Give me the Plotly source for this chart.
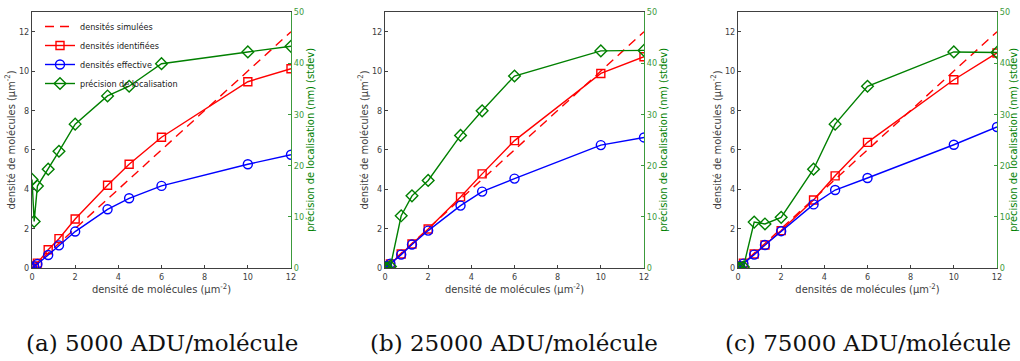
import plotly.graph_objects as go

# x positions (simulated density, µm^-2)
xs = [0, 0.1, 0.25, 0.75, 1.25, 2, 3.5, 4.5, 6, 10, 12]
simulated = [0, 0.1, 0.25, 0.75, 1.25, 2, 3.5, 4.5, 6, 10, 12]

# panel (a) 5000 ADU/molécule
ident_a = [0, 0.1, 0.25, 0.93, 1.49, 2.49, 4.2, 5.27, 6.64, 9.46, 10.12]
eff_a = [0, 0.08, 0.2, 0.66, 1.15, 1.85, 2.98, 3.54, 4.17, 5.27, 5.75]
prec_a = [17.3, 9.1, 16.0, 19.3, 22.8, 28.1, 33.6, 35.5, 39.9, 42.2, 43.3]

# panel (b) 25000 ADU/molécule
ident_b = [0, 0.08, 0.2, 0.71, 1.22, 1.98, 3.61, 4.78, 6.47, 9.88, 10.73]
eff_b = [0, 0.1, 0.22, 0.68, 1.19, 1.9, 3.17, 3.88, 4.54, 6.24, 6.63]
prec_b = [0, 0, 0.3, 10.2, 14.1, 17.1, 25.9, 30.7, 37.5, 42.4, 42.5]

# panel (c) 75000 ADU/molécule
ident_c = [0, 0.1, 0.25, 0.71, 1.17, 1.9, 3.45, 4.68, 6.38, 9.56, 10.92]
eff_c = [0, 0.09, 0.22, 0.68, 1.17, 1.87, 3.23, 3.96, 4.57, 6.26, 7.16]
prec_c = [0, 0, 0.2, 8.96, 8.6, 9.9, 19.3, 28.1, 35.5, 42.2, 42.1]

captions = ["(a) 5000 ADU/molécule", "(b) 25000 ADU/molécule", "(c) 75000 ADU/molécule"]
xtitles = ["densité de molécules (µm<sup>-2</sup>)",
           "densité de molécules (µm<sup>-2</sup>)",
           "densités de molécules (µm<sup>-2</sup>)"]
ytitle = "densité de molécules (µm<sup>-2</sup>)"
y2title = "précision de localisation (nm) (stdev)"
x_ticks = [0, 2, 4, 6, 8, 10, 12]
y_ticks = [0, 2, 4, 6, 8, 10, 12]
y2_ticks = [0, 10, 20, 30, 40, 50]

panels = [(ident_a, eff_a, prec_a), (ident_b, eff_b, prec_b), (ident_c, eff_c, prec_c)]
x_domains = [[32 / 1020, 291 / 1020], [385 / 1020, 644 / 1020], [738 / 1020, 997 / 1020]]
y_domain = [(361 - 268) / 361, (361 - 12) / 361]
cap_x = [162 / 1020, 514 / 1020, 868 / 1020]

RED = "#ff0000"
BLUE = "#0000ff"
GREEN = "#008000"
GREEN_T = "#3c9a3c"
GREY = "#404040"
FONT = "DejaVu Sans Condensed, Liberation Sans Narrow, Roboto Condensed, Roboto, sans-serif"

fig = go.Figure()
layout = dict(
    width=1020, height=361,
    margin=dict(l=0, r=0, t=0, b=0, autoexpand=False),
    paper_bgcolor="white", plot_bgcolor="white",
    font=dict(family=FONT, size=10, color=GREY),
    showlegend=True,
    legend=dict(x=40 / 1020, y=(361 - 12) / 361, xanchor="left", yanchor="top",
                bgcolor="rgba(0,0,0,0)", font=dict(size=9, color="#202020"),
                itemwidth=30, tracegroupgap=0),
    annotations=[],
)

for i, (ident, eff, prec) in enumerate(panels):
    xa = "x" if i == 0 else f"x{i + 1}"
    ya_l = "y" if i == 0 else f"y{2 * i + 1}"
    ya_r = f"y{2 * i + 2}"
    show = i == 0
    fig.add_trace(go.Scatter(x=xs, y=simulated, mode="lines", name="densités simulées",
                             line=dict(color=RED, width=1.4, dash="9px,6px"),
                             xaxis=xa, yaxis=ya_l, showlegend=show))
    fig.add_trace(go.Scatter(x=xs, y=ident, mode="lines+markers", name="densités identifiées",
                             line=dict(color=RED, width=1.4),
                             marker=dict(symbol="square-open", size=8, color=RED, line=dict(width=1.4)),
                             xaxis=xa, yaxis=ya_l, showlegend=show))
    fig.add_trace(go.Scatter(x=xs, y=eff, mode="lines+markers", name="densités effective",
                             line=dict(color=BLUE, width=1.4),
                             marker=dict(symbol="circle-open", size=9, color=BLUE, line=dict(width=1.4)),
                             xaxis=xa, yaxis=ya_l, showlegend=show))
    fig.add_trace(go.Scatter(x=xs, y=prec, mode="lines+markers", name="précision de localisation",
                             line=dict(color=GREEN, width=1.4),
                             marker=dict(symbol="diamond-open", size=9, color=GREEN, line=dict(width=1.4)),
                             xaxis=xa, yaxis=ya_r, showlegend=show))

    xkey = "xaxis" if i == 0 else f"xaxis{i + 1}"
    ylkey = "yaxis" if i == 0 else f"yaxis{2 * i + 1}"
    yrkey = f"yaxis{2 * i + 2}"
    layout[xkey] = dict(domain=x_domains[i], anchor=ya_l, range=[0, 12], automargin=False,
                        tickvals=x_ticks, ticks="inside", ticklen=3, tickcolor=GREY,
                        showline=True, linecolor=GREY, linewidth=1, mirror=True,
                        showgrid=False, zeroline=False,
                        tickfont=dict(size=9, color=GREY),
                        title=dict(text=xtitles[i], font=dict(size=11, color=GREY), standoff=2))
    layout[ylkey] = dict(domain=y_domain, anchor=xa, range=[0, 13], automargin=False,
                         tickvals=y_ticks, ticks="inside", ticklen=3, tickcolor=GREY,
                         showline=True, linecolor=GREY, linewidth=1,
                         showgrid=False, zeroline=False,
                         tickfont=dict(size=9, color=GREY),
                         title=dict(text=ytitle, font=dict(size=11, color=GREY), standoff=1))
    layout[yrkey] = dict(overlaying=ya_l, side="right", anchor=xa, range=[0, 50], automargin=False,
                         tickvals=y2_ticks, ticks="inside", ticklen=3, tickcolor=GREEN_T,
                         showline=True, linecolor=GREEN_T, linewidth=1,
                         showgrid=False, zeroline=False,
                         tickfont=dict(size=9, color=GREEN_T),
                         title=dict(text=y2title, font=dict(size=11, color=GREEN), standoff=1))
    layout["annotations"].append(dict(text=captions[i], x=cap_x[i], y=(361 - 343) / 361,
                                      xref="paper", yref="paper", showarrow=False,
                                      xanchor="center", yanchor="middle",
                                      font=dict(family="DejaVu Serif, Liberation Serif, serif",
                                                size=23, color="#111111")))

fig.update_layout(**layout)
fig.write_html("out.html", config={"displayModeBar": False},
               post_script="document.body.style.margin='0';document.body.style.overflow='hidden';")
